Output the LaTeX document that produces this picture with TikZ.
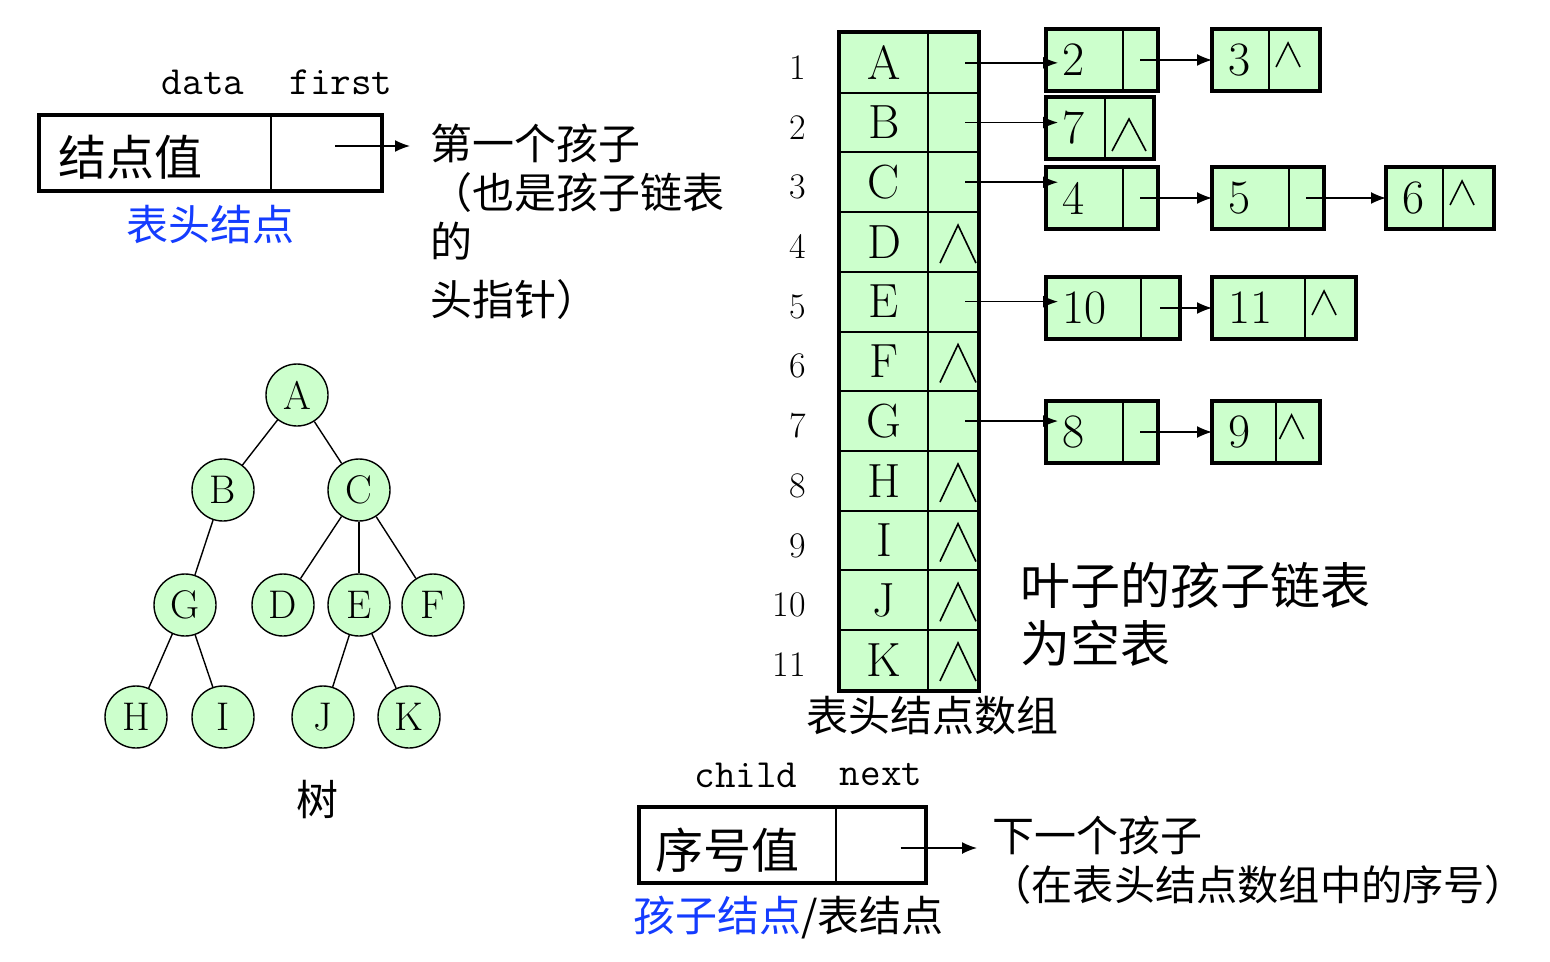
\documentclass[tikz,border=0pt]{standalone}
\usepackage{fontspec}
\newfontfamily\cjk{Noto Sans CJK SC}
\usepackage{tikz}
\usetikzlibrary{arrows}
\usetikzlibrary{arrows.meta}
\usetikzlibrary{positioning}
\definecolor{cellgreen}{RGB}{204,255,204}
\definecolor{labelblue}{RGB}{20,60,255}
\newcommand{\wedgemark}[3]% peak, half width, height
{(#1) ++(-#2,#3) -- (#1) -- ++(#2,#3)
}
\tikzset{
  greencell/.style = {draw, line width=1pt, fill=cellgreen, inner sep=0pt, minimum height=30pt},
  plaincell/.style = {draw, line width=1pt, inner sep=0pt, minimum height=37pt},
  thickframe/.style = {line width=2pt},
  link/.style = {-{Latex[length=7.5pt, width=6pt]}, line width=0.8pt},
  nilline/.style = {line width=0.8pt},
  edge/.style = {line width=0.7pt},
  treenode/.style = {circle, draw, line width=0.7pt, fill=cellgreen, minimum size=31pt, inner sep=0pt, font=\fontsize{20}{20}\selectfont},
  cjktext/.style = {inner sep=0pt, font=\cjk\fontsize{21}{24.5}\selectfont},
  cjkbig/.style = {inner sep=0pt, font=\cjk\fontsize{24}{29}\selectfont},
  fieldname/.style = {inner sep=0pt, font=\ttfamily\fontsize{20}{20}\selectfont},
  bigletter/.style = {font=\fontsize{24}{24}\selectfont},
  rowindex/.style = {inner sep=0pt, font=\fontsize{18}{18}\selectfont}
}

\begin{document}
\begin{tikzpicture}[x=0.5pt, y=-0.5pt]
\useasboundingbox (0,0) rectangle (1550,962);

% -- head node format
  \node[plaincell, minimum width=115.5pt] (hdata) at (155.5,153) {};
  \node[plaincell, minimum width=55pt, right=-1pt of hdata] (hfirst) {};
  \draw[thickframe] (hdata.north west) rectangle (hfirst.south east);
  \node[cjkbig, anchor=west] (hval) at (58,157) {结点值};
  \coordinate (hend) at (410,146);
  \draw[link] ([xshift=4.5pt]hfirst.center |- hend) -- (hend);

  \node[fieldname] (ldata) at (203,82) {data};
  \node[fieldname] (lfirst) at (341,82) {first};
  \node[cjktext, text=labelblue] (lhead) at (210,225) {表头结点};
  \node[cjktext, anchor=north west, align=left] (hnote) at (430,124)
     {第一个孩子\\（也是孩子链表\\的\\[4.5pt]头指针）};

% -- the tree
  \node[treenode] (tA) at (297,395) {A};
  \node[treenode] (tB) at (223,490) {B};
  \node[treenode] (tC) at (359,490) {C};
  \node[treenode] (tG) at (185,605) {G};
  \node[treenode] (tD) at (283,605) {D};
  \node[treenode] (tE) at (359,605) {E};
  \node[treenode] (tF) at (433,605) {F};
  \node[treenode] (tH) at (136,717) {H};
  \node[treenode] (tI) at (223,717) {I};
  \node[treenode] (tJ) at (323,717) {J};
  \node[treenode] (tK) at (409,717) {K};
  \foreach \u/\v in {A/B, A/C, B/G, C/D, C/E, C/F, G/H, G/I, E/J, E/K}
    \draw[edge] (t\u) -- (t\v);
  \node[cjktext] (ltree) at (317,800) {树};

% -- array of head nodes
  \foreach \lab [count=\i] in {A,B,C,D,E,F,G,H,I,J,K} {
    \pgfmathsetmacro{\yy}{33+59.7*(\i-0.5)}
    \node[greencell, minimum width=44pt, minimum height=29.85pt, bigletter] (d\lab) at (884,\yy) {\lab};
    \node[greencell, minimum width=25pt, minimum height=29.85pt] (p\lab) at (953,\yy) {};
    \node[rowindex, anchor=east] (r\i) at (806,\yy+5) {\i};
  }
  \draw[thickframe] (dA.north west) rectangle (pK.south east);
  \foreach \lab in {D,F,H,I,J,K}
    \draw[nilline] \wedgemark{[shift={(5,14)}]p\lab.north}{18}{38};
  \node[cjktext] (larray) at (932,716) {表头结点数组};

% -- child lists
  \foreach \val/\x/\y/\dw/\pw/\nilkind in {2/1046/60/76/34/0, 3/1212/60/56/50/1,
      7/1046/128/58/48/2, 4/1046/198/76/34/0, 5/1212/198/76/34/0, 6/1386/198/56/50/1,
      10/1046/308/94/38/0, 11/1212/308/92/50/1, 8/1046/432/76/34/0, 9/1212/432/63/43/1} {
    \node[greencell, minimum width={\dw*0.5pt}, anchor=west] (n\val) at (\x,\y) {};
    \node[greencell, minimum width={\pw*0.5pt}, right=-1pt of n\val] (q\val) {};
    \draw[thickframe] (n\val.north west) rectangle (q\val.south east);
    \node[bigletter, anchor=west, inner sep=0pt] (t\val) at ([xshift=8pt]n\val.west) {\val};
    \ifnum\nilkind=1
      \draw[nilline] \wedgemark{[shift={(-6,14)}]q\val.north}{12}{24};
    \fi
    \ifnum\nilkind=2
      \draw[nilline] \wedgemark{[shift={(0,22)}]q\val.north}{17}{32};
    \fi
  }
  \foreach \u/\v in {A/2, B/7, C/4, E/10, G/8}
    \draw[link] ([xshift=6pt]p\u.center) -- ([xshift=6pt]p\u.center -| n\v.west);
  \foreach \u/\v in {2/3, 4/5, 5/6, 10/11, 8/9}
    \draw[link] (q\u.center) -- (q\u.center -| n\v.west);

  \node[inner sep=0pt, anchor=north west, align=left, font=\cjk\fontsize{25}{29}\selectfont] (leafnote) at (1020,562)
     {叶子的孩子链表\\为空表};

% -- child node format
  \node[plaincell, minimum width=98pt] (cdata) at (738,845) {};
  \node[plaincell, minimum width=44.5pt, right=-1pt of cdata] (cnext) {};
  \draw[thickframe] (cdata.north west) rectangle (cnext.south east);
  \node[cjkbig, anchor=west] (cval) at (655,850) {序号值};
  \coordinate (cend) at (977,848);
  \draw[link] ([xshift=10pt]cnext.center |- cend) -- (cend);

  \node[fieldname] (lchild) at (746,775) {child};
  \node[fieldname] (lnext) at (881,775) {next};
  \node[cjktext, anchor=west] (cnote) at (992,835) {下一个孩子};
  \node[cjktext, anchor=west, font=\cjk\fontsize{20.6}{24}\selectfont] (cnotetwo) at (990,885) {（在表头结点数组中的序号）};
  \node[cjktext, anchor=west] (lchildnode) at (633,918) {\textcolor{labelblue}{孩子结点}/表结点};

\end{tikzpicture}
\end{document}
